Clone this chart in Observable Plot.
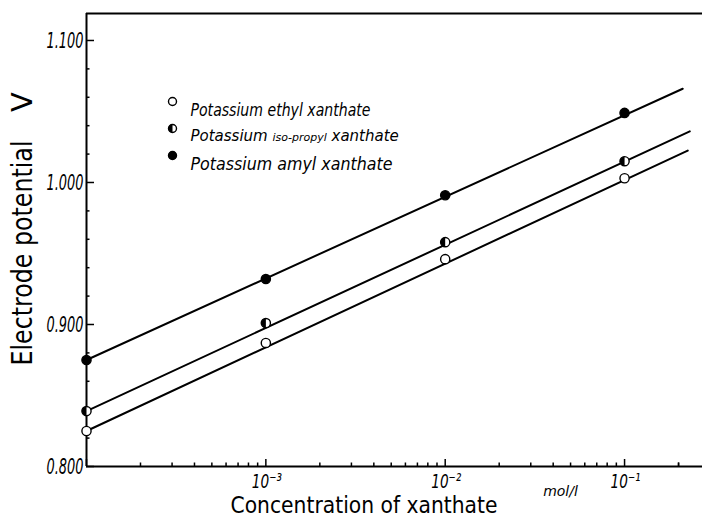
<!DOCTYPE html>
<html>
<head>
<meta charset="utf-8">
<script src="https://cdn.jsdelivr.net/npm/d3@7"></script>
<script src="https://cdn.jsdelivr.net/npm/@observablehq/plot@0.6"></script>
<style>
  body { margin: 0; background: #fff; }
  #chart svg { display: block; }
</style>
</head>
<body>
<div id="chart"></div>
<script>
// Xanthate concentrations (mol/l) at which the potential was measured
const concentrations = [1e-4, 1e-3, 1e-2, 1e-1];

// Measured electrode potentials (V) for each xanthate
const ethylPotential = [0.825, 0.887, 0.946, 1.003];
const isoPropylPotential = [0.839, 0.901, 0.958, 1.015];
const amylPotential = [0.875, 0.932, 0.991, 1.049];

// Straight-line fits: [concentration, potential] at each end
const ethylFit = [[1e-4, 0.825], [0.225, 1.0225]];
const isoPropylFit = [[1e-4, 0.839], [0.231, 1.036]];
const amylFit = [[1e-4, 0.875], [0.211, 1.066]];

const seriesNames = ["Potassium ethyl xanthate", "Potassium iso-propyl xanthate", "Potassium amyl xanthate"];
const seriesKeys = ["ethyl", "isoPropyl", "amyl"];

// Axis ticks and labels
const yMajor = [0.8, 0.9, 1.0, 1.1];
const yMinor = [0.82, 0.84, 0.86, 0.88, 0.92, 0.94, 0.96, 0.98, 1.02, 1.04, 1.06, 1.08];
const yTickLabels = ["0.800", "0.900", "1.000", "1.100"];
const xMajor = [1e-4, 1e-3, 1e-2, 1e-1];
const xLabelTicks = [1e-3, 1e-2, 1e-1];
const xTickLabels = ["10\u207B\u00B3", "10\u207B\u00B2", "10\u207B\u00B9"];
const xMultipliers = [2, 3, 4, 5, 6, 7, 8, 9];
const xMinor = xMajor.flatMap(d => xMultipliers.map(m => +(m * d).toPrecision(3))).concat([0.2]);
const yDomain = [0.8, 1.119];
const xDomain = [1e-4, 0.272];

const points = [
  ...concentrations.map((c, i) => ({series: "ethyl", c, v: ethylPotential[i]})),
  ...concentrations.map((c, i) => ({series: "isoPropyl", c, v: isoPropylPotential[i]})),
  ...concentrations.map((c, i) => ({series: "amyl", c, v: amylPotential[i]}))
];
const fits = [
  ...ethylFit.map(([c, v]) => ({series: "ethyl", c, v})),
  ...isoPropylFit.map(([c, v]) => ({series: "isoPropyl", c, v})),
  ...amylFit.map(([c, v]) => ({series: "amyl", c, v}))
];

// Left half of a circle, for the half-filled markers
const leftHalf = {
  draw(context, size) {
    const r = Math.sqrt(size / Math.PI);
    context.moveTo(0, -r);
    context.arc(0, 0, r, -Math.PI / 2, Math.PI / 2, true);
    context.closePath();
  }
};

const font = "'DejaVu Sans', sans-serif";
const R = 4.6;

const legendMarks = seriesKeys.flatMap((key, i) => {
  const dy = 88 + i * 27;
  const marks = [
    Plot.dot([key], {frameAnchor: "top-left", dx: 86, dy, r: 4, fill: key === "amyl" ? "black" : "white", stroke: "black", strokeWidth: 1.4})
  ];
  if (key === "isoPropyl") {
    marks.push(Plot.dot([key], {frameAnchor: "top-left", dx: 86, dy, r: 4, symbol: leftHalf, fill: "black", stroke: "none"}));
  }
  marks.push(Plot.text([seriesNames[i]], {frameAnchor: "top-left", dx: 104, dy: dy + 2, textAnchor: "start",
    fontSize: key === "isoPropyl" ? 15 : 17, fontStyle: "italic", fontFamily: font, fill: "black"}));
  return marks;
});

const svg = Plot.plot({
  width: 702,
  height: 523,
  marginLeft: 86,
  marginRight: 0,
  marginTop: 13,
  marginBottom: 57,
  style: {background: "white", color: "black", fontFamily: font},
  x: {type: "log", domain: xDomain, axis: null},
  y: {domain: yDomain, axis: null},
  marks: [
    // frame: top, left and bottom edges
    Plot.ruleY([yDomain[1]], {stroke: "black", strokeWidth: 2}),
    Plot.ruleY([yDomain[0]], {stroke: "black", strokeWidth: 2}),
    Plot.ruleX([xDomain[0]], {stroke: "black", strokeWidth: 2}),
    // inward ticks
    Plot.axisY(yMajor, {tickSize: -8, fill: "none", strokeWidth: 1.5, label: null}),
    Plot.axisY(yMinor, {tickSize: -3.5, fill: "none", strokeWidth: 1.5, label: null}),
    Plot.axisX(xMajor, {tickSize: -7, fill: "none", strokeWidth: 1.5, label: null}),
    Plot.axisX(xMinor, {tickSize: -3.5, fill: "none", strokeWidth: 1.5, label: null}),
    // y tick labels
    Plot.text(yMajor, {y: d => d, frameAnchor: "left", textAnchor: "start", dx: -40, dy: 0, fontSize: 22, fontStyle: "italic", fontFamily: font, fill: "black",
      text: (d, i) => yTickLabels[i]}),
    // x tick labels
    Plot.text(xLabelTicks, {x: d => d, frameAnchor: "bottom", textAnchor: "start", dx: -14, dy: 21, fontSize: 20, fontStyle: "italic", fontFamily: font, fill: "black",
      text: (d, i) => xTickLabels[i]}),
    // axis titles
    Plot.text(["Concentration of xanthate"], {frameAnchor: "bottom", textAnchor: "start", dx: -164, dy: 46, fontSize: 23, fontFamily: font, fill: "black"}),
    Plot.text(["mol/l"], {frameAnchor: "bottom", dx: 166, dy: 29, fontSize: 14, fontStyle: "italic", fontFamily: font, fill: "black"}),
    Plot.text(["Electrode potential"], {frameAnchor: "left", textAnchor: "start", rotate: -90, dx: -64, dy: 125.5, fontSize: 29, fontFamily: font, fill: "black"}),
    Plot.text(["V"], {frameAnchor: "left", rotate: -90, dx: -64, dy: -128, fontSize: 29, fontFamily: font, fill: "black"}),
    // fitted lines
    Plot.line(fits, {x: "c", y: "v", z: "series", stroke: "black", strokeWidth: 2}),
    // measured points
    Plot.dot(points, {x: "c", y: "v", r: R, fill: d => d.series === "amyl" ? "black" : "white", stroke: "black", strokeWidth: 1.4}),
    Plot.dot(points.filter(d => d.series === "isoPropyl"), {x: "c", y: "v", r: R, symbol: leftHalf, fill: "black", stroke: "none"}),
    ...legendMarks
  ]
});

// typographic adjustments: condensed lettering and the smaller "iso-propyl"
const root = d3.select(svg);
const fitLength = (txt, len) => root.selectAll("text").filter(function() { return this.textContent === txt; })
  .attr("textLength", len).attr("lengthAdjust", "spacingAndGlyphs");
fitLength("Concentration of xanthate", 267);
fitLength("Electrode potential", 225);
fitLength("Potassium ethyl xanthate", 180);
fitLength("Potassium amyl xanthate", 202);
yTickLabels.forEach(t => fitLength(t, 37));
xTickLabels.forEach(t => fitLength(t, 30));
root.selectAll("text").filter(function() { return this.textContent === "Potassium iso-propyl xanthate"; })
  .each(function() {
    const t = d3.select(this);
    t.text(null);
    t.append("tspan").text("Potassium ");
    t.append("tspan").attr("font-size", 11).text("iso-propyl");
    t.append("tspan").text(" xanthate");
  });

document.getElementById("chart").appendChild(svg);
</script>
</body>
</html>
